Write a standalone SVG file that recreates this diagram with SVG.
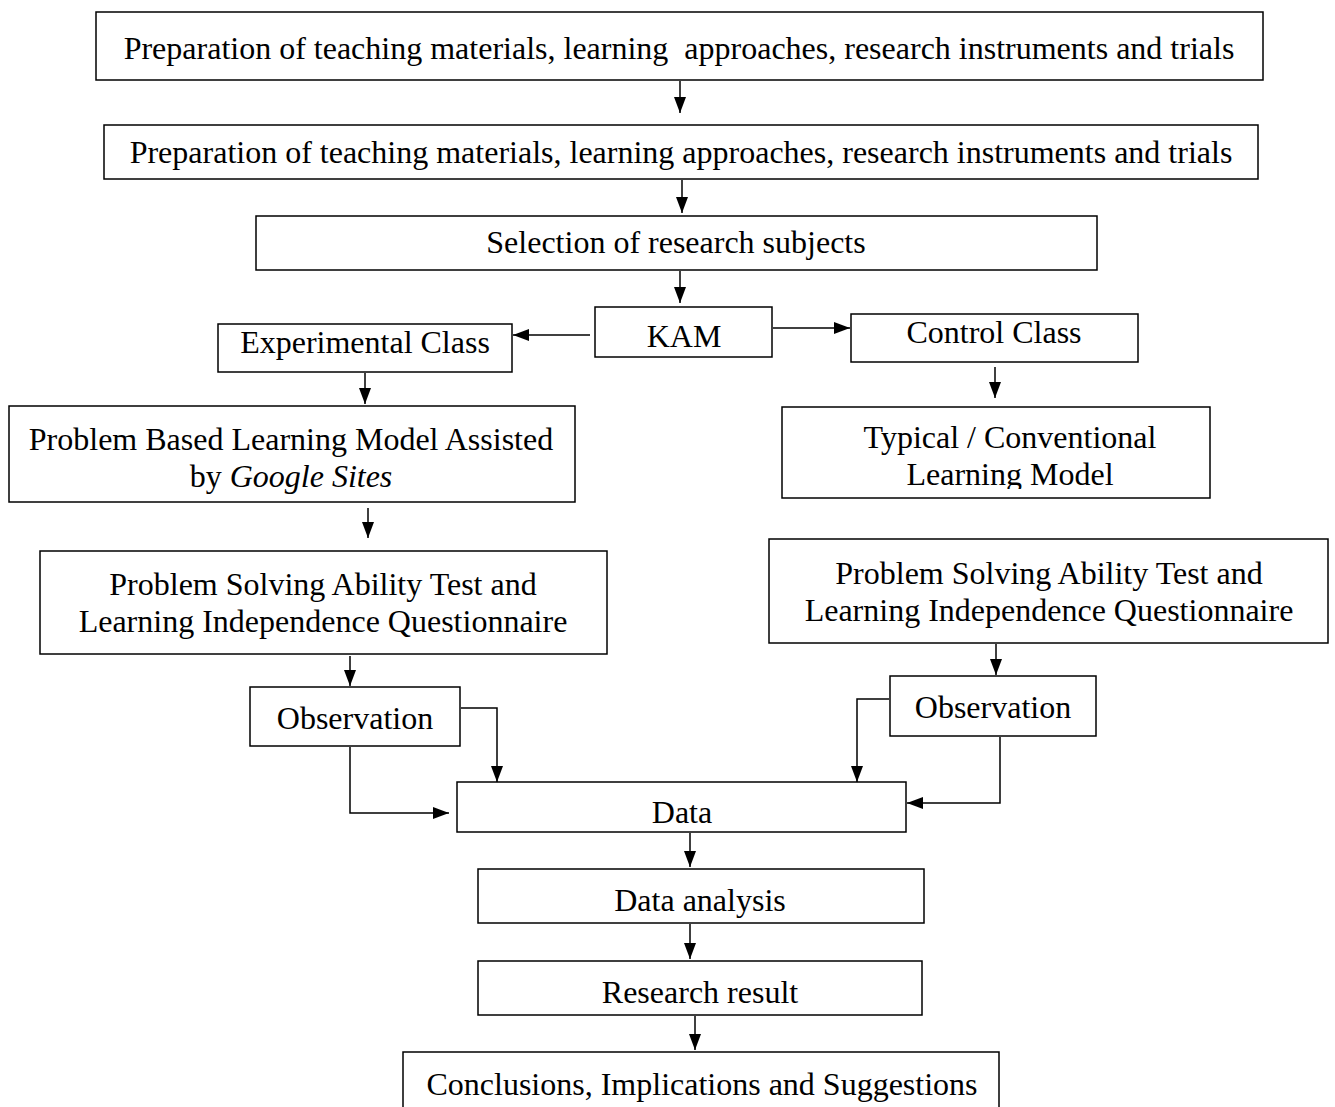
<svg xmlns="http://www.w3.org/2000/svg" width="1335" height="1107" viewBox="0 0 1335 1107">
<style>
rect.box{fill:#fff;stroke:#000;stroke-width:1.5}
text{font-family:"Liberation Serif","Times New Roman",serif;font-size:32px;fill:#000;text-anchor:middle}
.c path,.c line,.c polyline{fill:none;stroke:#000;stroke-width:1.5}
</style>
<defs>
<marker id="ah" markerUnits="userSpaceOnUse" markerWidth="16" markerHeight="12" refX="16" refY="6" orient="auto" viewBox="0 0 16 12">
<path d="M0,0 L16,6 L0,12 z" fill="#000"/>
</marker>
<clipPath id="clipTyp"><rect x="782" y="407" width="428" height="82"/></clipPath>
</defs>
<rect width="1335" height="1107" fill="#fff"/>

<g id="n1"><rect class="box" x="96" y="12" width="1167" height="68"/><text x="679" y="59" xml:space="preserve" style="white-space:pre">Preparation of teaching materials, learning  approaches, research instruments and trials</text></g>
<g id="n2"><rect class="box" x="104" y="125" width="1154" height="54"/><text x="681" y="163">Preparation of teaching materials, learning approaches, research instruments and trials</text></g>
<g id="n3"><rect class="box" x="256" y="216" width="841" height="54"/><text x="676" y="253">Selection of research subjects</text></g>
<g id="kam"><rect class="box" x="595" y="307" width="177" height="50"/><text x="684" y="347">KAM</text></g>
<g id="exp"><rect class="box" x="218" y="324" width="294" height="48"/><text x="365" y="353">Experimental Class</text></g>
<g id="ctrl"><rect class="box" x="851" y="314" width="287" height="48"/><text x="994" y="343">Control Class</text></g>
<g id="pbl"><rect class="box" x="9" y="406" width="566" height="96"/><text x="291" y="450">Problem Based Learning Model Assisted</text><text x="291" y="487">by <tspan font-style="italic">Google Sites</tspan></text></g>
<g id="typ"><rect class="box" x="782" y="407" width="428" height="91"/><text x="1010" y="448">Typical / Conventional</text><text x="1010" y="485" clip-path="url(#clipTyp)">Learning Model</text></g>
<g id="psatL"><rect class="box" x="40" y="551" width="567" height="103"/><text x="323" y="595">Problem Solving Ability Test and</text><text x="323" y="632">Learning Independence Questionnaire</text></g>
<g id="psatR"><rect class="box" x="769" y="539" width="559" height="104"/><text x="1049" y="584">Problem Solving Ability Test and</text><text x="1049" y="621">Learning Independence Questionnaire</text></g>
<g id="obsL"><rect class="box" x="250" y="687" width="210" height="59"/><text x="355" y="729">Observation</text></g>
<g id="obsR"><rect class="box" x="890" y="676" width="206" height="60"/><text x="993" y="718">Observation</text></g>
<g id="data"><rect class="box" x="457" y="782" width="449" height="50"/><text x="682" y="823">Data</text></g>
<g id="analysis"><rect class="box" x="478" y="869" width="446" height="54"/><text x="700" y="911">Data analysis</text></g>
<g id="result"><rect class="box" x="478" y="961" width="444" height="54"/><text x="700" y="1003">Research result</text></g>
<g id="concl"><path d="M403,1107 V1052 H999 V1107" fill="#fff" stroke="#000" stroke-width="1.5"/><text x="702" y="1095">Conclusions, Implications and Suggestions</text></g>

<g id="connectors" class="c">
<line x1="680" y1="81" x2="680" y2="113" marker-end="url(#ah)"/>
<line x1="682" y1="180" x2="682" y2="213" marker-end="url(#ah)"/>
<line x1="680" y1="271" x2="680" y2="303" marker-end="url(#ah)"/>
<line x1="590" y1="335" x2="513" y2="335" marker-end="url(#ah)"/>
<line x1="773" y1="328" x2="850" y2="328" marker-end="url(#ah)"/>
<line x1="365" y1="373" x2="365" y2="404" marker-end="url(#ah)"/>
<line x1="995" y1="367" x2="995" y2="398" marker-end="url(#ah)"/>
<line x1="368" y1="508" x2="368" y2="538" marker-end="url(#ah)"/>
<line x1="350" y1="656" x2="350" y2="686" marker-end="url(#ah)"/>
<line x1="996" y1="644" x2="996" y2="675" marker-end="url(#ah)"/>
<polyline points="461,708 497,708 497,782" marker-end="url(#ah)"/>
<polyline points="350,747 350,813 449,813" marker-end="url(#ah)"/>
<polyline points="889,699 857,699 857,782" marker-end="url(#ah)"/>
<polyline points="1000,737 1000,803 907,803" marker-end="url(#ah)"/>
<line x1="690" y1="833" x2="690" y2="867" marker-end="url(#ah)"/>
<line x1="690" y1="924" x2="690" y2="959" marker-end="url(#ah)"/>
<line x1="695" y1="1016" x2="695" y2="1050" marker-end="url(#ah)"/>
</g>
</svg>
